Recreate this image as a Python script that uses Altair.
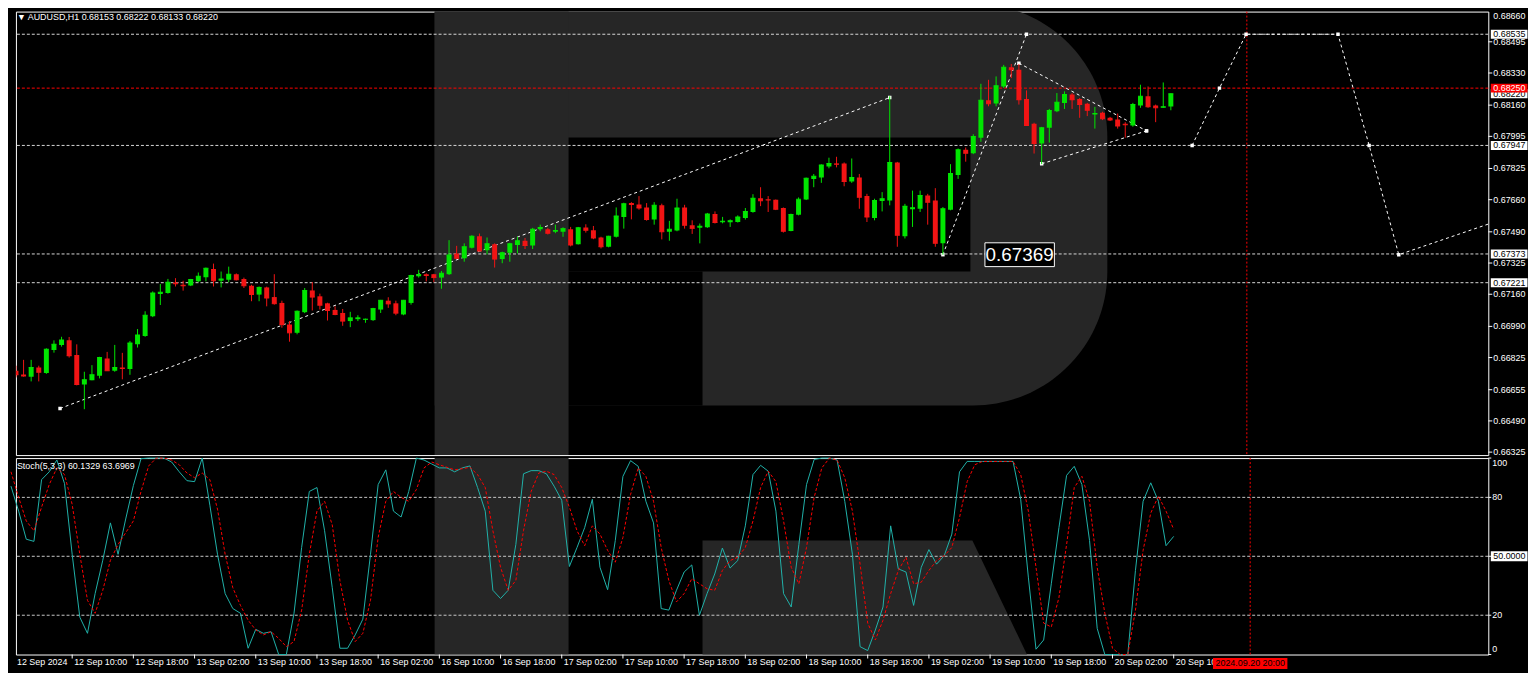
import altair as alt
import pandas as pd

FONT = "Liberation Sans"
BULL = "#00e600"
BEAR = "#f21414"
WM = "#262626"

symbol_name = "AUDUSD,H1"
time_labels = ["12 Sep 2024", "12 Sep 10:00", "12 Sep 18:00", "13 Sep 02:00", "13 Sep 10:00",
               "13 Sep 18:00", "16 Sep 02:00", "16 Sep 10:00", "16 Sep 18:00", "17 Sep 02:00",
               "17 Sep 10:00", "17 Sep 18:00", "18 Sep 02:00", "18 Sep 10:00", "18 Sep 18:00",
               "19 Sep 02:00", "19 Sep 10:00", "19 Sep 18:00", "20 Sep 02:00", "20 Sep 10:00"]
label_step = 8
now_bar = 162
now_label = "2024.09.20 20:00"

opens = [0.66755,0.66736,0.66724,0.66773,0.66743,0.66865,0.66892,0.66916,0.66839,0.66682,
 0.66705,0.66729,0.66820,0.66755,0.66773,0.66764,0.66895,0.66939,0.67044,0.67161,
 0.67166,0.67222,0.67210,0.67206,0.67229,0.67250,0.67294,0.67231,0.67236,0.67266,
 0.67240,0.67205,0.67158,0.67196,0.67145,0.67114,0.67000,0.66956,0.67065,0.67180,
 0.67149,0.67112,0.67077,0.67061,0.67018,0.67028,0.67025,0.67023,0.67079,0.67126,
 0.67112,0.67053,0.67114,0.67255,0.67266,0.67266,0.67248,0.67266,0.67376,0.67350,
 0.67406,0.67467,0.67392,0.67425,0.67346,0.67380,0.67420,0.67443,0.67418,0.67504,
 0.67504,0.67490,0.67490,0.67504,0.67425,0.67513,0.67499,0.67460,0.67411,0.67464,
 0.67568,0.67642,0.67635,0.67619,0.67555,0.67630,0.67490,0.67497,0.67619,0.67525,
 0.67511,0.67514,0.67584,0.67541,0.67541,0.67542,0.67563,0.67595,0.67668,0.67661,
 0.67660,0.67616,0.67495,0.67581,0.67661,0.67770,0.67777,0.67836,0.67852,0.67852,
 0.67756,0.67778,0.67679,0.67563,0.67653,0.67656,0.67857,0.67467,0.67609,0.67612,
 0.67682,0.67656,0.67429,0.67607,0.67791,0.67924,0.67906,0.67988,0.68186,0.68169,
 0.68259,0.68361,0.68347,0.68193,0.68062,0.67957,0.68041,0.68128,0.68172,0.68216,
 0.68193,0.68167,0.68111,0.68120,0.68093,0.68084,0.68062,0.68053,0.68158,0.68207,
 0.68158,0.68146,0.68153]
highs = [0.66782,0.66813,0.66813,0.66782,0.66874,0.66916,0.66935,0.66934,0.66895,0.66750,
 0.66785,0.66829,0.66855,0.66892,0.66850,0.66913,0.66976,0.67070,0.67175,0.67214,
 0.67241,0.67245,0.67231,0.67241,0.67275,0.67301,0.67322,0.67280,0.67306,0.67270,
 0.67248,0.67210,0.67201,0.67200,0.67266,0.67126,0.67018,0.67074,0.67193,0.67224,
 0.67163,0.67115,0.67096,0.67082,0.67067,0.67049,0.67031,0.67088,0.67130,0.67144,
 0.67126,0.67130,0.67263,0.67289,0.67271,0.67268,0.67283,0.67446,0.67416,0.67429,
 0.67472,0.67481,0.67460,0.67429,0.67385,0.67432,0.67464,0.67458,0.67511,0.67528,
 0.67511,0.67528,0.67514,0.67516,0.67516,0.67530,0.67521,0.67464,0.67469,0.67619,
 0.67644,0.67647,0.67679,0.67642,0.67647,0.67639,0.67548,0.67665,0.67633,0.67551,
 0.67534,0.67590,0.67598,0.67569,0.67556,0.67577,0.67616,0.67689,0.67726,0.67679,
 0.67661,0.67619,0.67586,0.67672,0.67777,0.67796,0.67847,0.67882,0.67887,0.67857,
 0.67878,0.67796,0.67691,0.67665,0.67700,0.68207,0.67860,0.67638,0.67708,0.67708,
 0.67691,0.67721,0.67621,0.67848,0.67931,0.67936,0.68006,0.68273,0.68294,0.68312,
 0.68373,0.68378,0.68378,0.68238,0.68067,0.68045,0.68140,0.68224,0.68233,0.68224,
 0.68198,0.68172,0.68151,0.68125,0.68098,0.68116,0.68070,0.68172,0.68268,0.68259,
 0.68163,0.68280,0.68222]
lows = [0.66720,0.66724,0.66699,0.66699,0.66739,0.66851,0.66883,0.66825,0.66678,0.66552,
 0.66705,0.66715,0.66755,0.66750,0.66710,0.66734,0.66878,0.66935,0.67039,0.67103,
 0.67163,0.67201,0.67179,0.67203,0.67224,0.67228,0.67201,0.67196,0.67224,0.67233,
 0.67193,0.67123,0.67123,0.67096,0.67105,0.66983,0.66909,0.66948,0.67060,0.67074,
 0.67079,0.67021,0.67049,0.66993,0.66986,0.67018,0.67009,0.67019,0.67061,0.67088,
 0.67049,0.67049,0.67105,0.67248,0.67228,0.67224,0.67189,0.67262,0.67346,0.67332,
 0.67402,0.67385,0.67371,0.67301,0.67324,0.67332,0.67376,0.67399,0.67399,0.67493,
 0.67476,0.67483,0.67464,0.67413,0.67423,0.67486,0.67451,0.67402,0.67408,0.67460,
 0.67507,0.67556,0.67607,0.67549,0.67528,0.67450,0.67443,0.67493,0.67507,0.67479,
 0.67429,0.67511,0.67534,0.67535,0.67516,0.67539,0.67555,0.67591,0.67626,0.67595,
 0.67605,0.67486,0.67493,0.67577,0.67658,0.67726,0.67749,0.67826,0.67831,0.67731,
 0.67749,0.67612,0.67542,0.67551,0.67598,0.67630,0.67411,0.67455,0.67516,0.67595,
 0.67528,0.67411,0.67369,0.67604,0.67770,0.67861,0.67901,0.67966,0.68154,0.68154,
 0.68251,0.68303,0.68163,0.68050,0.67904,0.67848,0.67962,0.68123,0.68140,0.68140,
 0.68093,0.68102,0.68036,0.68081,0.68076,0.68036,0.67988,0.68046,0.68146,0.68146,
 0.68070,0.68146,0.68133]
closes = [0.66734,0.66727,0.66773,0.66747,0.66869,0.66895,0.66918,0.66834,0.66682,0.66708,
 0.66734,0.66825,0.66755,0.66773,0.66767,0.66902,0.66944,0.67049,0.67166,0.67170,
 0.67224,0.67215,0.67205,0.67238,0.67255,0.67298,0.67231,0.67240,0.67266,0.67236,
 0.67205,0.67158,0.67196,0.67140,0.67110,0.67000,0.66956,0.67070,0.67180,0.67145,
 0.67102,0.67074,0.67053,0.67018,0.67035,0.67035,0.67028,0.67084,0.67128,0.67109,
 0.67060,0.67128,0.67259,0.67264,0.67259,0.67248,0.67271,0.67367,0.67350,0.67411,
 0.67467,0.67388,0.67427,0.67346,0.67380,0.67427,0.67443,0.67418,0.67504,0.67513,
 0.67483,0.67497,0.67507,0.67420,0.67511,0.67499,0.67458,0.67411,0.67467,0.67574,
 0.67639,0.67635,0.67616,0.67555,0.67630,0.67490,0.67504,0.67616,0.67525,0.67507,
 0.67520,0.67584,0.67539,0.67546,0.67549,0.67569,0.67598,0.67668,0.67654,0.67658,
 0.67609,0.67493,0.67582,0.67663,0.67773,0.67784,0.67843,0.67852,0.67848,0.67756,
 0.67778,0.67673,0.67568,0.67656,0.67665,0.67857,0.67472,0.67626,0.67617,0.67682,
 0.67647,0.67429,0.67612,0.67799,0.67924,0.67906,0.67994,0.68186,0.68167,0.68263,
 0.68361,0.68347,0.68189,0.68053,0.67957,0.68041,0.68132,0.68175,0.68216,0.68189,
 0.68163,0.68133,0.68116,0.68088,0.68081,0.68050,0.68057,0.68163,0.68207,0.68151,
 0.68146,0.68151,0.68220]

stoch_k = [85.7,73,58.7,57.6,89,93,99,87,51,19,
 10.8,31,48,67,51,69,86,99.7,100,100,
 100,98,93,88.5,88,100,76,51,31,23.4,
 21,3.2,12.8,10.8,11.6,0,0,21,54.5,83,
 85,63,34,3.2,3.2,10,18,51,86.5,94,
 73,70,83,100,99,97,95,95,93,95,
 96,85,73,32.7,28.5,32.7,56,92,93.6,93.6,
 92,85.7,78.5,44.8,54.5,64.6,79,44.4,33,58,
 90.7,98.7,95.8,78,67,23.4,22.6,32.7,42,45.6,
 20,31,41,54.2,44,47.8,65.5,91.6,96.3,93.3,
 73,31,24.2,56,86.5,99.3,100,100,99,78,
 51,4,2,12.5,24.2,65.5,43.6,42,25,44.4,
 53.4,46,50.3,61.3,93,98.3,98.3,98.3,98.3,98.3,
 98.3,98.3,79,39.4,2.7,7.4,36,64.6,91.2,95.8,
 86.5,58,13.3,0,0,0,0,42.8,78,87.4,
 78,55.4,60.1329]
stoch_d = [93,80,68,63,75,86.5,95,91.6,76.4,51,
 27.6,21,32.7,48,56,62,68,83,96,100,
 100,99,96.6,92.4,90,92.4,89,74,51,34,
 25,17.5,12.5,10,11.6,8.2,4,6.6,22.6,51,
 73,78,66,37.7,17.5,6.6,10.8,27.6,59.6,78,
 83,80,78,84,95,98,96.6,95.3,94,94.6,
 95.3,91.6,85,63,44.4,32.7,37.7,63,83,92.4,
 93.3,91.6,85,75,63,55.4,65.5,61.3,53,47,
 59.6,81.5,95,90.7,78,54.5,37.7,26.8,31,38.6,
 36,33.5,32.7,42.8,47.8,49.5,54.5,68,85,93.3,
 88,68,44.4,36,54.5,80,95,100,99,90,
 73,46,16,7.4,17.5,31,42.8,49.5,36,36.8,
 42.8,47.8,50.3,54.5,69.7,88,96.6,98.3,98.3,98.3,
 98.3,98.3,91.6,73,44.4,16,14,29,56,85,
 90.7,78,44.4,21,3.2,0,0,22.6,53,72,
 80.6,73,63.6969]

price_ticks = [0.68495, 0.68330, 0.68160, 0.67995, 0.67825, 0.67660, 0.67490,
               0.67325, 0.67160, 0.66990, 0.66825, 0.66655, 0.66490, 0.66325]
top_tick_label = "0.68660"
level_prices = [0.68535, 0.67947, 0.67373, 0.67221]
ask_price = 0.68250
bid_price = 0.68220
stoch_levels = [20, 50, 80]
stoch_ticks = [0, 20, 50, 80, 100]

# drawn analysis objects (bar index, price)
line_ids = ["support", "support", "impulse", "impulse", "tri_up", "tri_up", "tri_low", "tri_low",
            "fc", "fc", "fc", "fc", "fc", "fc", "fc"]
line_bars = [5.8, 115.0, 122.0, 133.0, 132.0, 148.8, 135.0, 148.8,
             154.8, 158.4, 161.9, 174.0, 178.1, 182.0, 194.0]
line_prices = [0.66556, 0.68200, 0.67369, 0.68535, 0.68382, 0.68024, 0.67850, 0.68024,
               0.67947, 0.68250, 0.68535, 0.68535, 0.67947, 0.67369, 0.67534]
low_label_bar = 132.1
low_label_price = 0.67369
low_label_text = "0.67369"

# ---------------- build ----------------
n = len(opens)
bars = list(range(n))
candles = pd.DataFrame({"bar": bars, "open": opens, "high": highs, "low": lows, "close": closes})
candles["dir"] = ["up" if c >= o else "down" for o, c in zip(opens, closes)]

X_SCALE = alt.Scale(domain=[0.6485, 193.13], zero=False, nice=False)
P_SCALE = alt.Scale(domain=[0.6630925, 0.686548], zero=False, nice=False)
S_SCALE = alt.Scale(domain=[0, 100], zero=False, nice=False)


def xb(field):
    return alt.X(f"{field}:Q", scale=X_SCALE, axis=None, title=None)


def yp(field):
    return alt.Y(f"{field}:Q", scale=P_SCALE, axis=None, title=None)


def ys(field):
    return alt.Y(f"{field}:Q", scale=S_SCALE, axis=None, title=None)


def rect_path(w, h):
    r = round(h / w, 4)
    return f"M-1,{-r}L1,{-r}L1,{r}L-1,{r}Z"


one = pd.DataFrame({"k": [0]})


def px_rect(x1, x2, y1, y2, color, **kw):
    return alt.Chart(one).mark_rect(color=color, clip=True, opacity=1, **kw).encode(
        x=alt.value(x1), x2=alt.value(x2), y=alt.value(y1), y2=alt.value(y2))


def label_text(df, x, y, color="white", align="left", baseline="middle", size=9, **kw):
    return alt.Chart(df).mark_text(align=align, baseline=baseline, fontSize=size, font=FONT,
                                   color=color, **kw).encode(x=x, y=y, text="text:N")


cdir = alt.Color("dir:N", scale=alt.Scale(domain=["up", "down"], range=[BULL, BEAR]), legend=None)

# ---- main panel ----
wm_bowl = px_rect(422, 1100, -8, 397, WM, cornerRadiusTopRight=135, cornerRadiusBottomRight=135)
wm_stem = px_rect(422, 557, -8, 447, WM)
wm_counter = px_rect(557, 962, 127, 262, "#000000")
wm_gap = px_rect(557, 692, 262, 397, "#000000")

levels = alt.Chart(pd.DataFrame({"price": level_prices})).mark_rule(
    color="#d8d8d8", strokeDash=[3, 2], strokeWidth=1, opacity=1).encode(y=yp("price"))
ask = alt.Chart(pd.DataFrame({"price": [ask_price]})).mark_rule(
    color="#ff0000", strokeDash=[3, 2], strokeWidth=1, opacity=1).encode(y=yp("price"))
now_df = pd.DataFrame({"bar": [now_bar]})
now_rule = alt.Chart(now_df).mark_rule(color="#ff0000", strokeDash=[2, 2], strokeWidth=1,
                                        opacity=1).encode(x=xb("bar"))

lines_df = pd.DataFrame({"seg": line_ids, "bar": line_bars, "price": line_prices,
                         "ord": list(range(len(line_ids)))})
drawn = alt.Chart(lines_df).mark_line(color="white", strokeDash=[3, 3], strokeWidth=1,
                                      clip=True, opacity=1).encode(
    x=xb("bar"), y=yp("price"), detail="seg:N", order="ord:Q")
markers = alt.Chart(lines_df.iloc[:-1]).mark_point(shape="square", size=12, filled=True,
                                                  color="white", opacity=1, clip=True).encode(
    x=xb("bar"), y=yp("price"))

wicks = alt.Chart(candles).mark_rule(strokeWidth=1, clip=True, opacity=1).encode(
    x=xb("bar"), y=yp("low"), y2="high:Q", color=cdir)
bodies = alt.Chart(candles).mark_bar(size=5, clip=True, opacity=1).encode(
    x=xb("bar"), y=yp("open"), y2="close:Q", color=cdir)
close_ticks = alt.Chart(candles).mark_tick(orient="horizontal", size=5, thickness=1,
                                           clip=True, opacity=1).encode(
    x=xb("bar"), y=yp("close"), color=cdir)

lowlab_df = pd.DataFrame({"bar": [low_label_bar], "price": [low_label_price], "text": [low_label_text]})
lowlab_box = alt.Chart(lowlab_df).mark_point(shape=rect_path(70, 24), size=4900, filled=True,
                                             fill="#000000", stroke="#ffffff", strokeWidth=1,
                                             opacity=1).encode(x=xb("bar"), y=yp("price"))
lowlab_text = label_text(lowlab_df, xb("bar"), yp("price"), align="center", size=19)

header = "\u25BC " + symbol_name + "  " + " ".join(
    f"{v:.5f}" for v in [opens[-1], highs[-1], lows[-1], closes[-1]])
title_txt = alt.Chart(one).mark_text(align="left", baseline="top", color="white", fontSize=9,
                                     font=FONT).encode(
    x=alt.value(1), y=alt.value(1), text=alt.value(header))

# right price scale (drawn as marks)
ptick_df = pd.DataFrame({"price": price_ticks, "text": [f"{p:.5f}" for p in price_ticks]})
ptick_marks = alt.Chart(ptick_df).mark_rule(color="white", strokeWidth=1, opacity=1).encode(
    x=alt.value(1484), x2=alt.value(1488), y=yp("price"))
ptick_text = label_text(ptick_df, alt.value(1489), yp("price"))
top_lab = alt.Chart(one).mark_text(align="left", baseline="top", fontSize=9, font=FONT,
                                   color="white").encode(
    x=alt.value(1489), y=alt.value(0), text=alt.value(top_tick_label))

white_boxes = pd.DataFrame({"price": level_prices[:1] + [bid_price] + level_prices[1:]})
white_boxes["text"] = [f"{p:.5f}" for p in white_boxes["price"]]
wb = alt.Chart(white_boxes).mark_point(shape=rect_path(37, 9), size=37 * 37, filled=True,
                                       color="#ffffff", opacity=1, strokeWidth=0).encode(
    x=alt.value(1505), y=yp("price"))
wt = label_text(white_boxes, alt.value(1489), yp("price"), color="#000000")
red_box_df = pd.DataFrame({"price": [ask_price], "text": [f"{ask_price:.5f}"]})
rb = alt.Chart(red_box_df).mark_point(shape=rect_path(37, 9), size=37 * 37, filled=True,
                                      color="#ff0000", opacity=1, strokeWidth=0).encode(
    x=alt.value(1505), y=yp("price"))
rt = label_text(red_box_df, alt.value(1489), yp("price"), color="#ffffff")

main = alt.layer(wm_bowl, wm_stem, wm_counter, wm_gap, levels, ask, now_rule, drawn, markers,
                 wicks, bodies, close_ticks, lowlab_box, lowlab_text, title_txt,
                 ptick_marks, ptick_text, top_lab,
                 wb, wt, rb, rt).properties(width=1484, height=447)

# ---- stochastic panel ----
stoch_df = pd.DataFrame({"bar": bars, "k": stoch_k, "d": stoch_d})
s_stem = px_rect(422, 557, 0, 198, WM)
leg_path = "M-1,-0.3517L0.6636,-0.3517L1,0.3517L-1,0.3517Z"
s_leg = alt.Chart(one).mark_point(shape=leg_path, size=327 * 327, filled=True, color=WM,
                                  opacity=1, strokeWidth=0).encode(
    x=alt.value(855.5), y=alt.value(140.5))
s_levels = alt.Chart(pd.DataFrame({"v": stoch_levels})).mark_rule(
    color="#c8c8c8", strokeDash=[3, 2], strokeWidth=1, opacity=1).encode(y=ys("v"))
s_now = alt.Chart(now_df).mark_rule(color="#ff0000", strokeDash=[2, 2], strokeWidth=1,
                                     opacity=1).encode(x=xb("bar"))
k_line = alt.Chart(stoch_df).mark_line(color="#20b2aa", strokeWidth=1, opacity=1).encode(
    x=xb("bar"), y=ys("k"))
d_line = alt.Chart(stoch_df).mark_line(color="#ff0000", strokeDash=[3, 2], strokeWidth=1,
                                       opacity=1).encode(x=xb("bar"), y=ys("d"))
s_header = f"Stoch(5,3,3) {stoch_k[-1]:.4f} {stoch_d[-1]:.4f}"
s_title = alt.Chart(one).mark_text(align="left", baseline="middle", color="white", fontSize=9,
                                   font=FONT).encode(
    x=alt.value(1), y=alt.value(8), text=alt.value(s_header))

# stochastic scale on the right
stick_df = pd.DataFrame({"v": stoch_ticks})
stick_marks = alt.Chart(stick_df).mark_rule(color="white", strokeWidth=1, opacity=1).encode(
    x=alt.value(1484), x2=alt.value(1487), y=ys("v"))
mid_df = pd.DataFrame({"v": [20, 80], "text": ["20", "80"]})
mid_text = label_text(mid_df, alt.value(1488), ys("v"))
top_df = pd.DataFrame({"v": [100], "text": ["100"]})
top_text = label_text(top_df, alt.value(1488), ys("v"), baseline="top", dy=1)
bot_df = pd.DataFrame({"v": [0], "text": ["0"]})
bot_text = label_text(bot_df, alt.value(1488), ys("v"), baseline="bottom", dy=-1)
fifty_df = pd.DataFrame({"v": [50], "text": ["50.0000"]})
fb = alt.Chart(fifty_df).mark_point(shape=rect_path(37, 10), size=37 * 37, filled=True,
                                    color="#ffffff", opacity=1, strokeWidth=0).encode(
    x=alt.value(1505), y=ys("v"))
ft = label_text(fifty_df, alt.value(1489), ys("v"), color="#000000")

# time scale at the bottom
tl_df = pd.DataFrame({"bar": list(range(label_step, n, label_step)),
                      "text": time_labels[1:]})
tl_ticks = alt.Chart(tl_df).mark_rule(color="white", strokeWidth=1, opacity=1).encode(
    x=xb("bar"), y=alt.value(198), y2=alt.value(202))
tl_text = label_text(tl_df, xb("bar"), alt.value(202), baseline="top", dx=2)
first_lab = alt.Chart(one).mark_text(align="left", baseline="top", fontSize=9, font=FONT,
                                     color="white").encode(
    x=alt.value(1), y=alt.value(202), text=alt.value(time_labels[0]))
time_df = pd.DataFrame({"bar": [now_bar], "text": [now_label]})
tb = alt.Chart(time_df).mark_point(shape=rect_path(75, 11), size=75 * 75, filled=True,
                                   color="#ff0000", opacity=1, strokeWidth=0).encode(
    x=xb("bar"), y=alt.value(207))
tt = label_text(time_df, xb("bar"), alt.value(207), color="#000000", align="center")

stoch = alt.layer(s_stem, s_leg, s_levels, s_now, k_line, d_line, s_title,
                  stick_marks, mid_text, top_text, bot_text, fb, ft,
                  tl_ticks, tl_text, first_lab, tb, tt).properties(width=1484, height=198)

chart = alt.vconcat(main, stoch, spacing=3, bounds="flush").properties(
    background="#000000", padding=0
).configure_view(stroke="#ffffff", strokeWidth=1).configure_text(font=FONT)

chart.save("out.html", embed_options={"renderer": "svg", "actions": False})
